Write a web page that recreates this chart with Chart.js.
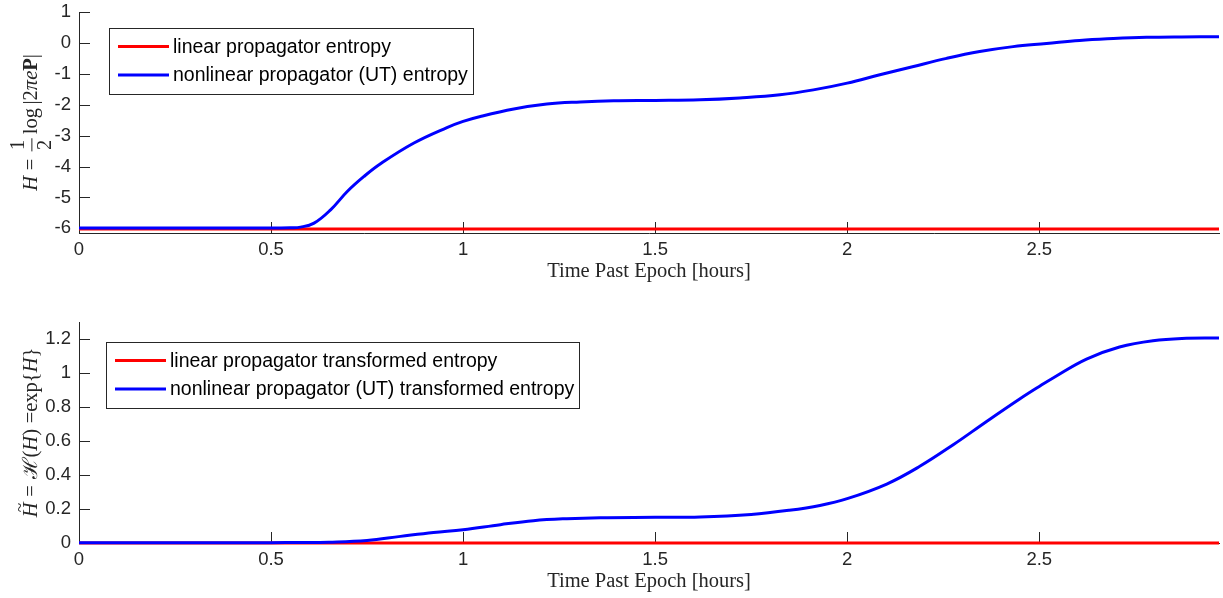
<!DOCTYPE html>
<html>
<head>
<meta charset="utf-8">
<script src="https://cdn.jsdelivr.net/npm/chart.js@4.4.1/dist/chart.umd.min.js"></script>
<style>
  html, body { margin: 0; padding: 0; background: #fff; }
  #wrap { position: relative; width: 1223px; height: 598px; overflow: hidden; }
  canvas { position: absolute; left: 0; }
</style>
</head>
<body>
<div id="wrap">
  <canvas id="cTop" width="1223" height="299" style="top:0px"></canvas>
  <canvas id="cBot" width="1223" height="299" style="top:299px"></canvas>
</div>
<script>
// ---- data -------------------------------------------------------------
// time past epoch, hours
const timeLinear = [0, 2.968];
const entropyLinear = [-6.02, -6.02];

const timeUT = [0, 0.25, 0.5, 0.55, 0.577, 0.612, 0.655, 0.699, 0.742, 0.785, 0.872, 0.958,
  1.0, 1.045, 1.132, 1.218, 1.305, 1.392, 1.5, 1.617, 1.72, 1.825, 1.912, 2.0, 2.085,
  2.17, 2.259, 2.345, 2.432, 2.519, 2.605, 2.693, 2.779, 2.87, 2.968];
const entropyUT = [-5.99, -5.99, -5.99, -5.98, -5.96, -5.83, -5.40, -4.80, -4.32, -3.91, -3.24, -2.74,
  -2.54, -2.38, -2.14, -1.98, -1.91, -1.87, -1.86, -1.84, -1.78, -1.68, -1.52, -1.30, -1.03,
  -0.77, -0.50, -0.28, -0.12, -0.02, 0.08, 0.14, 0.18, 0.195, 0.20];

const transLinear = [0, 0];

const timeUT2 = [0, 0.5, 0.577, 0.65, 0.75, 0.837, 0.923, 1.0, 1.097, 1.183, 1.27, 1.357,
  1.5, 1.617, 1.75, 1.848, 1.929, 2.0, 2.103, 2.189, 2.276, 2.363, 2.449, 2.5, 2.536,
  2.623, 2.709, 2.796, 2.883, 2.968];
const transUT = [0.002, 0.002, 0.003, 0.005, 0.015, 0.039, 0.062, 0.078, 0.108, 0.131, 0.143, 0.149,
  0.151, 0.153, 0.168, 0.192, 0.221, 0.261, 0.347, 0.451, 0.578, 0.715, 0.847, 0.921, 0.971,
  1.082, 1.153, 1.190, 1.204, 1.206];

// axes
const xMax = 2.968;
const xTicks = [0, 0.5, 1, 1.5, 2, 2.5];
const xTickLabels = ['0', '0.5', '1', '1.5', '2', '2.5'];
const yTicksTop = [-6, -5, -4, -3, -2, -1, 0, 1];
const yTickLabelsTop = ['-6', '-5', '-4', '-3', '-2', '-1', '0', '1'];
const yTicksBottom = [0, 0.2, 0.4, 0.6, 0.8, 1, 1.2];
const yTickLabelsBottom = ['0', '0.2', '0.4', '0.6', '0.8', '1', '1.2'];

const xTitle = 'Time Past Epoch [hours]';
const legendTop = ['linear propagator entropy', 'nonlinear propagator (UT) entropy'];
const legendBottom = ['linear propagator transformed entropy', 'nonlinear propagator (UT) transformed entropy'];

// ---- styling ----------------------------------------------------------
const SANS = '"Liberation Sans", Arial, Helvetica, sans-serif';
const SERIF = '"Liberation Serif", "Times New Roman", serif';
const AXIS = '#262626';
const RED = '#ff0000';
const BLUE = '#0000ff';

Chart.defaults.font.family = SANS;
Chart.defaults.color = AXIS;

const pairs = (xs, ys) => xs.map((x, i) => ({ x: x, y: ys[i] }));

// tick marks pointing into the plot area, drawn beneath the curves
const innerTicks = {
  id: 'innerTicks',
  beforeDatasetsDraw(chart) {
    const { ctx, chartArea: ca, scales: { x, y } } = chart;
    ctx.save();
    ctx.strokeStyle = AXIS;
    ctx.lineWidth = 1;
    ctx.beginPath();
    x.ticks.forEach(t => {
      const px = Math.round(x.getPixelForValue(t.value)) + 0.5;
      ctx.moveTo(px, ca.bottom);
      ctx.lineTo(px, ca.bottom - 11);
    });
    y.ticks.forEach(t => {
      const py = Math.round(y.getPixelForValue(t.value)) + 0.5;
      ctx.moveTo(ca.left, py);
      ctx.lineTo(ca.left + 11, py);
    });
    ctx.stroke();
    ctx.restore();
  }
};

// boxed legend in the upper-left corner of the plot area
const boxLegend = {
  id: 'boxLegend',
  afterDatasetsDraw(chart, args, opts) {
    const { ctx, chartArea: ca } = chart;
    const items = chart.data.datasets;
    ctx.save();
    ctx.font = opts.size + 'px ' + SANS;
    const textW = Math.max(...items.map(d => ctx.measureText(d.label).width));
    const padL = 9, lineLen = 51, gap = 4, padR = 5, rowH = 28.5, padV = 18.5;
    const x0 = Math.round(ca.left + opts.dx), y0 = Math.round(ca.top + opts.dy);
    const w = Math.round(padL + lineLen + gap + textW + padR);
    const h = Math.round(padV * 2 + rowH * (items.length - 1));
    ctx.fillStyle = '#fff';
    ctx.fillRect(x0, y0, w, h);
    ctx.strokeStyle = AXIS;
    ctx.lineWidth = 1;
    ctx.strokeRect(x0 + 0.5, y0 + 0.5, w, h);
    items.forEach((d, i) => {
      const yy = y0 + padV + i * rowH;
      ctx.strokeStyle = d.borderColor;
      ctx.lineWidth = d.borderWidth;
      ctx.beginPath();
      ctx.moveTo(x0 + padL, yy);
      ctx.lineTo(x0 + padL + lineLen, yy);
      ctx.stroke();
      ctx.fillStyle = '#000';
      ctx.textAlign = 'left';
      ctx.textBaseline = 'middle';
      ctx.fillText(d.label, x0 + padL + lineLen + gap, yy + 1);
    });
    ctx.restore();
  }
};

// vertical axis label set as math: italic, bold, fractions and accents
function fontFor(style, size) {
  if (style === 'i') return 'italic ' + size + 'px ' + SERIF;
  if (style === 'b') return 'bold ' + size + 'px ' + SERIF;
  return size + 'px ' + SERIF;
}
const richLabel = {
  id: 'richLabel',
  afterDraw(chart, args, opts) {
    const { ctx, chartArea: ca } = chart;
    const size = opts.size;
    ctx.save();
    const widths = opts.parts.map(p => {
      if (p.sp !== undefined) return p.sp * size;
      if (p.frac) {
        ctx.font = fontFor('r', size);
        return Math.max(ctx.measureText(p.frac[0]).width, ctx.measureText(p.frac[1]).width) + 0.3 * size;
      }
      ctx.font = fontFor(p.s, size);
      return ctx.measureText(p.t).width;
    });
    const total = widths.reduce((a, b) => a + b, 0);
    ctx.translate(opts.x, (ca.top + ca.bottom) / 2);
    ctx.rotate(-Math.PI / 2);
    ctx.fillStyle = AXIS;
    ctx.strokeStyle = AXIS;
    ctx.textBaseline = 'alphabetic';
    let cur = -total / 2;
    opts.parts.forEach((p, i) => {
      const w = widths[i];
      if (p.frac) {
        ctx.font = fontFor('r', size);
        ctx.textAlign = 'center';
        const mid = cur + w / 2;
        ctx.fillText(p.frac[0], mid, -0.62 * size);
        ctx.fillText(p.frac[1], mid, 0.66 * size);
        ctx.lineWidth = Math.max(1, 0.045 * size);
        ctx.beginPath();
        ctx.moveTo(cur + 0.08 * size, -0.25 * size);
        ctx.lineTo(cur + w - 0.08 * size, -0.25 * size);
        ctx.stroke();
      } else if (p.t !== undefined) {
        ctx.font = fontFor(p.s, size);
        ctx.textAlign = 'left';
        ctx.fillText(p.t, cur, 0);
        if (p.tilde) {
          ctx.font = fontFor('r', size * 0.85);
          ctx.textAlign = 'center';
          ctx.fillText('~', cur + w / 2 + 0.12 * size, -0.58 * size);
        }
      }
      cur += w;
    });
    ctx.restore();
  }
};

function makeChart(canvas, cfg) {
  return new Chart(canvas, {
    type: 'line',
    data: { datasets: cfg.datasets },
    options: {
      responsive: false,
      animation: false,
      devicePixelRatio: 1,
      layout: { padding: { top: cfg.padTop, right: 4, left: 0, bottom: 0 } },
      elements: { point: { radius: 0 } },
      plugins: {
        legend: { display: false },
        tooltip: { enabled: false },
        boxLegend: cfg.legend,
        richLabel: cfg.ylabel
      },
      scales: {
        x: {
          type: 'linear', min: 0, max: xMax,
          grid: { display: false, drawTicks: false },
          border: { display: true, color: AXIS, width: 1 },
          afterBuildTicks: s => { s.ticks = xTicks.map(v => ({ value: v })); },
          afterFit: s => { s.height = cfg.xHeight; s.paddingLeft = 0; s.paddingRight = 0; },
          ticks: {
            padding: 6, autoSkip: false, maxRotation: 0, color: AXIS,
            font: { family: SANS, size: 18.5 },
            callback: v => xTickLabels[xTicks.indexOf(v)]
          },
          title: {
            display: true, text: xTitle, color: AXIS,
            font: { family: SERIF, size: 20.5 },
            padding: { top: 0, bottom: cfg.titlePad }
          }
        },
        y: {
          type: 'linear', min: cfg.yMin, max: cfg.yMax,
          grid: { display: false, drawTicks: false },
          border: { display: true, color: AXIS, width: 1 },
          afterBuildTicks: s => { s.ticks = cfg.yTicks.map(v => ({ value: v })); },
          afterFit: s => { s.width = 79; s.paddingTop = 0; s.paddingBottom = 0; },
          ticks: {
            padding: 8, autoSkip: false, color: AXIS,
            font: { family: SANS, size: 18.5 },
            callback: v => cfg.yLabels[cfg.yTicks.indexOf(v)]
          }
        }
      }
    },
    plugins: [innerTicks, boxLegend, richLabel]
  });
}

function series(label, xs, ys, color, order) {
  return {
    label: label, data: pairs(xs, ys), borderColor: color, backgroundColor: color,
    borderWidth: 3, fill: false, tension: 0.4, order: order, clip: 4
  };
}

// entropy
makeChart(document.getElementById('cTop'), {
  datasets: [
    series(legendTop[0], timeLinear, entropyLinear, RED, 1),
    series(legendTop[1], timeUT, entropyUT, BLUE, 0)
  ],
  padTop: 12, xHeight: 66, titlePad: 15,
  yMin: -6.15, yMax: 1, yTicks: yTicksTop, yLabels: yTickLabelsTop,
  legend: { dx: 30, dy: 16, size: 19.5 },
  ylabel: {
    x: 37, size: 20.5,
    parts: [
      { t: 'H', s: 'i' }, { sp: 0.28 }, { t: '=', s: 'r' }, { sp: 0.28 },
      { frac: ['1', '2'] }, { sp: 0.12 }, { t: 'log', s: 'r' }, { sp: 0.17 },
      { t: '|2', s: 'r' }, { t: 'πe', s: 'i' }, { t: 'P', s: 'b' }, { t: '|', s: 'r' }
    ]
  }
});

// transformed entropy
makeChart(document.getElementById('cBot'), {
  datasets: [
    series(legendBottom[0], timeLinear, transLinear, RED, 1),
    series(legendBottom[1], timeUT2, transUT, BLUE, 0)
  ],
  padTop: 23, xHeight: 55, titlePad: 4,
  yMin: 0, yMax: 1.3, yTicks: yTicksBottom, yLabels: yTickLabelsBottom,
  legend: { dx: 27, dy: 20, size: 19.5 },
  ylabel: {
    x: 37, size: 20.5,
    parts: [
      { t: 'H', s: 'i', tilde: true }, { sp: 0.28 }, { t: '=', s: 'r' }, { sp: 0.28 },
      { t: 'ℋ', s: 'r' }, { t: '(', s: 'r' }, { t: 'H', s: 'i' }, { t: ')', s: 'r' },
      { sp: 0.28 }, { t: '=exp{', s: 'r' }, { t: 'H', s: 'i' }, { t: '}', s: 'r' }
    ]
  }
});
</script>
</body>
</html>
